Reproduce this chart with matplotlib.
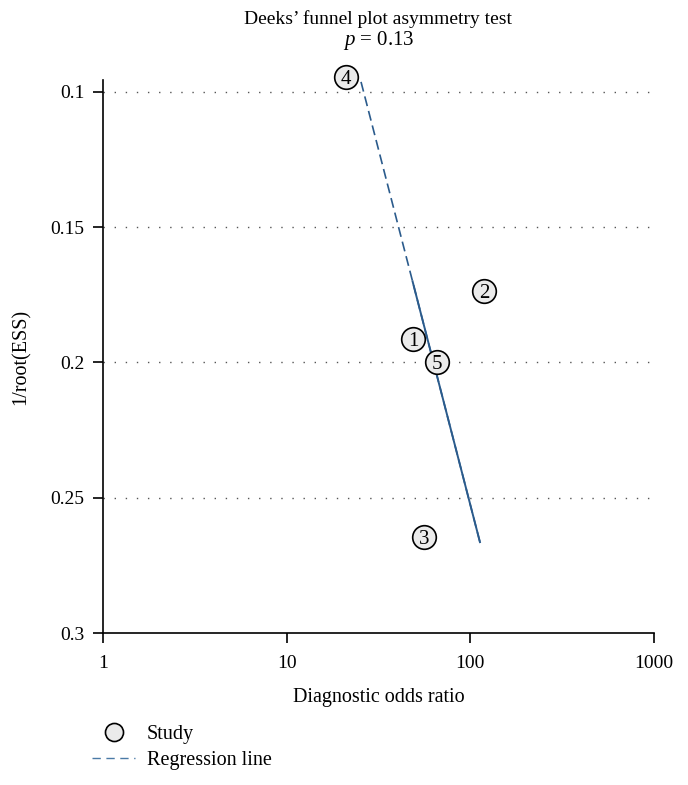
import numpy as np
import matplotlib.pyplot as plt
from matplotlib.lines import Line2D

# Study data
study_ids = ['1', '2', '3', '4', '5']
study_dor = [48.7, 118.6, 55.9, 21.0, 65.8]
study_ess = [0.1913, 0.1736, 0.2645, 0.0945, 0.2000]

# Regression line end points (1/root(ESS), DOR)
reg_ess = [0.0963, 0.2664]
reg_dor = [25.4, 112.8]
solid_from = 0.1700   # below this the line is drawn solid

y_ticks = [0.1, 0.15, 0.2, 0.25, 0.3]
y_labels = ['0.1', '0.15', '0.2', '0.25', '0.3']
x_ticks = [1, 10, 100, 1000]

plt.rcParams['font.family'] = ['Liberation Serif', 'DejaVu Serif']
plt.rcParams['mathtext.fontset'] = 'custom'
plt.rcParams['mathtext.it'] = 'Liberation Serif:italic'
plt.rcParams['mathtext.rm'] = 'Liberation Serif'

line_col = '#2b5b8c'

fig = plt.figure(figsize=(6.88, 7.85), dpi=100)
ax = fig.add_axes([0.1497, 0.1936, 0.8009, 0.7045])

# Dotted reference lines
for yv in y_ticks[:-1]:
    ax.axhline(yv, color='#555555', lw=1.0, ls=(0, (1, 7)), zorder=1)

# Regression line: dashed on top, solid lower part
ax.plot(reg_dor, reg_ess, color=line_col, lw=1.2, ls=(0, (6, 3)), zorder=2)
t = (solid_from - reg_ess[0]) / (reg_ess[1] - reg_ess[0])
x_mid = np.exp(np.log(reg_dor[0]) + t * (np.log(reg_dor[1]) - np.log(reg_dor[0])))
ax.plot([x_mid, reg_dor[1]], [solid_from, reg_ess[1]], color=line_col, lw=1.4, zorder=2)

# Studies
ax.plot(study_dor, study_ess, 'o', ms=17, mfc='#ebebeb', mec='black', mew=1.2,
        clip_on=False, zorder=3)
for sid, xv, yv in zip(study_ids, study_dor, study_ess):
    ax.text(xv, yv, sid, ha='center', va='center_baseline', fontsize=15, zorder=4, clip_on=False)

ax.set_xscale('log')
ax.set_xlim(1, 1000)
ax.set_ylim(0.3, 0.0956)
ax.set_xticks(x_ticks)
ax.set_xticklabels([str(v) for v in x_ticks])
ax.minorticks_off()
ax.set_yticks(y_ticks)
ax.set_yticklabels(y_labels)
ax.tick_params(axis='both', direction='out', length=7.5, width=1.2, labelsize=14, pad=6)
ax.tick_params(axis='x', pad=8)
for side in ['top', 'right']:
    ax.spines[side].set_visible(False)
for side in ['left', 'bottom']:
    ax.spines[side].set_linewidth(1.2)

ax.set_xlabel('Diagnostic odds ratio', fontsize=14.5, labelpad=12)
ax.set_ylabel('1/root(ESS)', fontsize=14.5, labelpad=14)

fig.text(0.55, 0.976, 'Deeks\u2019 funnel plot asymmetry test', ha='center', va='center', fontsize=14)
fig.text(0.55, 0.949, '$p$ = 0.13', ha='center', va='center', fontsize=15)

handles = [Line2D([], [], ls='none', marker='o', ms=13, mfc='#ebebeb', mec='black', mew=1.2),
           Line2D([], [], color='#4a7aa6', lw=1.0, ls=(0, (6, 4)))]
fig.legend(handles, ['Study', 'Regression line'], loc='upper left',
           bbox_to_anchor=(0.108, 0.1), frameon=False, fontsize=14.5,
           handlelength=2.1, handletextpad=0.6, labelspacing=0.35)

fig.savefig('out.png', dpi=100)
